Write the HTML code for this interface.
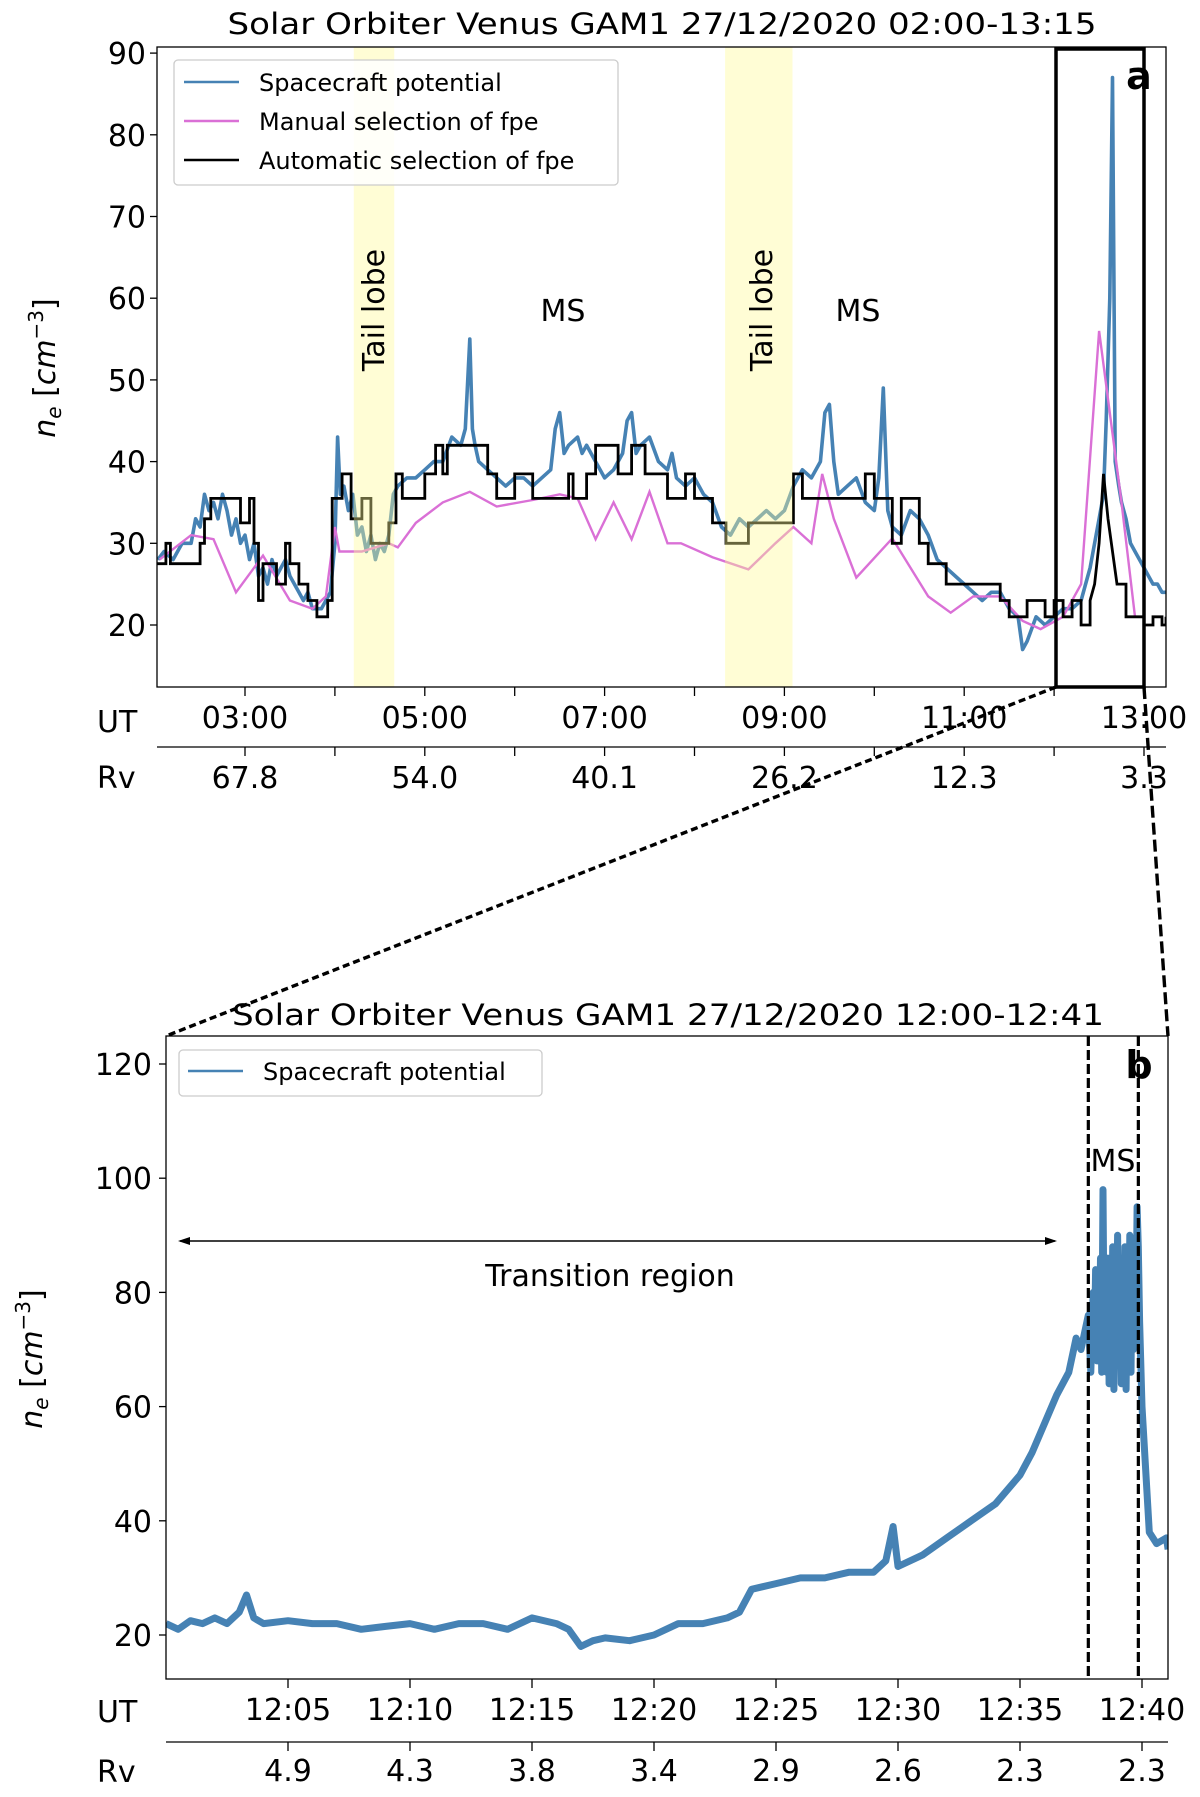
<!DOCTYPE html>
<html><head><meta charset="utf-8">
<style>
html,body{margin:0;padding:0;background:#fff;}
svg{display:block;font-family:"DejaVu Sans","Liberation Sans",sans-serif;}
</style></head>
<body>
<svg id="fig" width="1200" height="1797" viewBox="0 0 1200 1797" xmlns="http://www.w3.org/2000/svg"></svg>
<script>
// ---------- Panel a data ----------
const aBlueT = [2.03,2.1,2.2,2.3,2.4,2.45,2.5,2.55,2.6,2.65,2.7,2.75,2.8,2.85,2.9,2.95,3.0,3.05,3.1,3.15,3.2,3.25,3.3,3.35,3.4,3.45,3.5,3.55,3.6,3.65,3.7,3.75,3.8,3.85,3.9,3.95,4.0,4.03,4.06,4.1,4.15,4.2,4.25,4.3,4.35,4.4,4.45,4.5,4.55,4.6,4.65,4.7,4.8,4.9,5.0,5.1,5.2,5.3,5.4,5.45,5.5,5.53,5.56,5.6,5.7,5.8,5.9,6.0,6.1,6.2,6.3,6.4,6.45,6.5,6.55,6.6,6.7,6.75,6.8,6.9,7.0,7.1,7.2,7.25,7.3,7.35,7.4,7.5,7.6,7.7,7.75,7.8,7.9,8.0,8.1,8.2,8.3,8.4,8.5,8.6,8.7,8.8,8.9,9.0,9.1,9.2,9.3,9.4,9.45,9.5,9.55,9.6,9.7,9.8,9.9,10.0,10.05,10.1,10.15,10.2,10.3,10.4,10.5,10.6,10.7,10.8,10.9,11.0,11.1,11.2,11.3,11.4,11.5,11.6,11.65,11.7,11.8,11.9,12.0,12.1,12.2,12.3,12.35,12.4,12.45,12.5,12.55,12.58,12.62,12.65,12.68,12.72,12.75,12.8,12.85,12.9,12.95,13.0,13.05,13.1,13.15,13.2,13.245];
const aBlueV = [28,29,28,30,30,33,32,36,34,35,33,36,34,31,33,30,31,28,30,26,27,25,28,26,27,28,26,25,24,23,24,22,22,22,23,24,30,43,36,37,34,36,31,32,29,31,28,30,29,31,36,37,38,38,39,40,40,43,42,44,55,44,42,40,39,38,37,38,38,37,38,39,44,46,41,42,43,41,42,40,38,39,41,45,46,41,42,43,40,39,41,38,37,38,36,35,32,31,33,32,33,34,33,34,37,39,38,40,46,47,40,36,37,38,35,34,38,49,34,32,31,34,33,31,28,27,26,25,24,23,24,24,22,21,17,18,21,20,21,22,22,23,25,27,30,33,36,45,60,87,40,37,35,33,30,29,28,27,26,25,25,24,24];

const aManT = [2.05,2.4,2.65,2.9,3.2,3.5,3.75,3.9,4.0,4.05,4.3,4.6,4.7,4.9,5.2,5.5,5.8,6.2,6.5,6.7,6.9,7.1,7.3,7.5,7.7,7.85,8.2,8.6,8.9,9.1,9.3,9.42,9.55,9.8,10.2,10.6,10.85,11.1,11.4,11.65,11.85,12.1,12.3,12.5,12.75,12.9];
const aManV = [28,31,30.5,24,28.5,23,22,23.5,32,29,29,30,29.5,32.5,35,36.3,34.5,35.3,36,35.5,30.5,35,30.5,36.3,30,30,28.3,26.8,30,32,30,38.5,33,25.8,30.6,23.5,21.5,23.5,23.5,20.5,19.5,21,25,56,35,21];

const aAutoT = [2.02,2.12,2.17,2.2,2.5,2.55,2.62,2.7,2.95,3.05,3.1,3.15,3.2,3.35,3.45,3.5,3.6,3.7,3.8,3.92,3.97,4.08,4.18,4.3,4.4,4.6,4.68,4.75,5.0,5.12,5.2,5.25,5.45,5.7,5.8,6.0,6.2,6.6,6.65,6.8,6.9,7.15,7.3,7.45,7.7,7.9,8.0,8.2,8.35,8.6,8.9,9.1,9.2,9.6,9.9,10.0,10.2,10.3,10.5,10.6,10.8,11.0,11.2,11.4,11.5,11.7,11.9,12.0,12.1,12.2,12.3,12.4,12.45,12.5,12.55,12.6,12.7,12.8,13.0,13.1,13.2,13.245];
const aAutoV = [27.5,30,27.5,27.5,30,33,35.5,35.5,32.5,35.5,30,23,27.5,25,30,27.5,25,23,21,23,35.5,38.5,33,35.5,30,32.5,38.5,35.5,38.5,42,38.5,42,42,38.5,35.5,38.5,35.5,38.5,35.5,38.5,42,38.5,42,38.5,35.5,38.5,35.5,32.5,30,32.5,32.5,38.5,35.5,35.5,38.5,35.5,30,35.5,30,27.5,25,25,25,23,21,23,21,23,21,23,20,23,25,30,38.5,33,25,21,20,21,20,21];
const aAutoLinear = [false];

const aYTicks = [20,30,40,50,60,70,80,90];
const aUTTicks = [3,5,7,9,11,13];
const aUTLabels = ["03:00","05:00","07:00","09:00","11:00","13:00"];
const aMinorTicks = [4,6,8,10,12];
const aRvLabels = ["67.8","54.0","40.1","26.2","12.3","3.3"];
const aBands = [[4.21,4.66],[8.34,9.09]];

// ---------- Panel b data ----------
const bT = [0,0.5,1,1.5,2,2.5,3,3.3,3.6,4,5,6,7,8,9,10,11,12,13,14,15,16,16.5,17,17.5,18,19,20,21,22,23,23.5,24,25,26,27,28,29,29.5,29.8,30,31,32,33,34,35,35.5,36,36.5,37,37.3,37.5,37.8,37.9,38,38.05,38.1,38.15,38.2,38.25,38.3,38.35,38.4,38.45,38.5,38.55,38.6,38.65,38.7,38.75,38.8,38.85,38.9,38.95,39,39.05,39.1,39.15,39.2,39.25,39.3,39.35,39.4,39.45,39.5,39.55,39.6,39.65,39.7,39.75,39.8,39.85,39.9,40,40.3,40.6,41,41.07];
const bV = [22,21,22.5,22,23,22,24,27,23,22,22.5,22,22,21,21.5,22,21,22,22,21,23,22,21,18,19,19.5,19,20,22,22,23,24,28,29,30,30,31,31,33,39,32,34,37,40,43,48,52,57,62,66,72,70,76,66,80,70,84,68,82,72,86,66,98,70,84,66,86,64,82,70,88,63,84,72,90,68,85,64,82,70,88,63,84,72,90,66,86,70,88,75,95,88,75,60,38,36,37,35,36];
const bYTicks = [20,40,60,80,100,120];
const bUTTicks = [5,10,15,20,25,30,35,40];
const bUTLabels = ["12:05","12:10","12:15","12:20","12:25","12:30","12:35","12:40"];
const bRvLabels = ["4.9","4.3","3.8","3.4","2.9","2.6","2.3","2.3"];
const bBoundaries = [37.8,39.85];

// ---------- scales ----------
const xa = t => 245 + (t - 3) * 89.9;
const ya = v => 625 - (v - 20) * 8.17;
const xb = m => 288 + (m - 5) * 24.4;
const yb = v => 1635 - (v - 20) * 5.71;
const A = {l:157, r:1166, t:47, b:687};
const B = {l:166, r:1168, t:1036, b:1679};

const svg = document.getElementById('fig');
const NS = 'http://www.w3.org/2000/svg';
function mk(tag, attrs, parent, text) {
  const e = document.createElementNS(NS, tag);
  for (const k in attrs) e.setAttribute(k, attrs[k]);
  if (text !== undefined) e.textContent = text;
  (parent || svg).appendChild(e);
  return e;
}
function linePath(xs, ys, fx, fy) {
  return xs.map((x, i) => (i ? 'L' : 'M') + fx(x).toFixed(1) + ',' + fy(ys[i]).toFixed(1)).join('');
}
function stepPath(xs, ys, fx, fy) {
  let d = 'M' + fx(xs[0]).toFixed(1) + ',' + fy(ys[0]).toFixed(1);
  for (let i = 1; i < xs.length; i++) {
    if (xs[i] > 12.4 && xs[i] <= 12.7) {
      d += 'L' + fx(xs[i]).toFixed(1) + ',' + fy(ys[i]).toFixed(1);
      continue;
    }
    d += 'L' + fx(xs[i]).toFixed(1) + ',' + fy(ys[i - 1]).toFixed(1);
    d += 'L' + fx(xs[i]).toFixed(1) + ',' + fy(ys[i]).toFixed(1);
  }
  return d;
}

// ===== Panel a =====
const ga = mk('g', {});


const clipA = mk('clipPath', {id: 'clipA'}, ga);
mk('rect', {x: A.l, y: A.t, width: A.r - A.l, height: A.b - A.t}, clipA);

const pa = mk('g', {'clip-path': 'url(#clipA)'}, ga);
const blueA = mk('path', {d: linePath(aBlueT, aBlueV, xa, ya), fill: 'none', stroke: '#4682b4', 'stroke-width': 3.6, 'stroke-linejoin': 'round'}, pa);


const manA = mk('path', {d: linePath(aManT, aManV, xa, ya), fill: 'none', stroke: '#da70d6', 'stroke-width': 2.4}, pa);


const autoA = mk('path', {d: stepPath(aAutoT, aAutoV, xa, ya), fill: 'none', stroke: '#000', 'stroke-width': 2.8}, pa);


aBands.forEach(b => {
  const r = mk('rect', {x: xa(b[0]), y: A.t, width: xa(b[1]) - xa(b[0]), height: A.b - A.t, fill: 'rgb(255,250,150)', 'fill-opacity': 0.4}, pa);
  
  
});
mk('rect', {x: A.l, y: A.t, width: A.r - A.l, height: A.b - A.t, fill: 'none', stroke: '#000', 'stroke-width': 1.3}, ga);

aYTicks.forEach(v => {
  mk('line', {x1: A.l - 7, x2: A.l, y1: ya(v), y2: ya(v), stroke: '#000', 'stroke-width': 1.3}, ga);
  const t = mk('text', {x: A.l - 11, y: ya(v) + 11, 'font-size': 30, 'text-anchor': 'end'}, ga, String(v));
  
  
});
aUTTicks.concat(aMinorTicks).forEach(h => {
  mk('line', {x1: xa(h), x2: xa(h), y1: A.b, y2: A.b + 9, stroke: '#000', 'stroke-width': 1.3}, ga);
  mk('line', {x1: xa(h), x2: xa(h), y1: 747, y2: 756, stroke: '#000', 'stroke-width': 1.3}, ga);
});
aUTTicks.forEach((h, i) => {
  const t = mk('text', {x: xa(h), y: 728, 'font-size': 30, 'text-anchor': 'middle'}, ga, aUTLabels[i]);
  
  
  const r = mk('text', {x: xa(h), y: 788, 'font-size': 30, 'text-anchor': 'middle'}, ga, aRvLabels[i]);
  
  
});
mk('line', {x1: A.l, x2: A.r, y1: 747, y2: 747, stroke: '#000', 'stroke-width': 1.3}, ga);
mk('text', {x: 97, y: 732, 'font-size': 30}, ga, 'UT');
mk('text', {x: 97, y: 788, 'font-size': 30}, ga, 'Rv');

const ta = mk('text', {x: 662, y: 34, 'font-size': 29, 'text-anchor': 'middle', textLength: 869, lengthAdjust: 'spacingAndGlyphs'}, ga, 'Solar Orbiter Venus GAM1 27/12/2020 02:00-13:15');



const yla = mk('text', {transform: 'translate(55,368) rotate(-90)', 'font-size': 30, 'text-anchor': 'middle'}, ga);


yla.innerHTML = '<tspan font-style="italic">n</tspan><tspan font-style="italic" font-size="20" dy="6">e</tspan><tspan dy="-6"> [</tspan><tspan font-style="italic">cm</tspan><tspan font-size="20" dy="-12">−3</tspan><tspan dy="12">]</tspan>';

[[373, 'Tail lobe'], [761, 'Tail lobe']].forEach(a => {
  const t = mk('text', {transform: 'translate(' + (a[0] + 11) + ',310) rotate(-90)', 'font-size': 30, 'text-anchor': 'middle'}, ga, a[1]);
  
  
});
[563, 858].forEach(x => {
  const t = mk('text', {x: x, y: 321, 'font-size': 30, 'text-anchor': 'middle'}, ga, 'MS');
  
  
});
const zoomBox = mk('rect', {x: 1056, y: 49, width: 88, height: 638, fill: 'none', stroke: '#000', 'stroke-width': 3.5}, ga);


const la = mk('text', {x: 1139, y: 89, 'font-size': 38, 'font-weight': 'bold', 'text-anchor': 'middle'}, ga, 'a');



const lga = mk('g', {}, ga);


mk('rect', {x: 174, y: 60, width: 444, height: 125, rx: 4, fill: '#fff', 'fill-opacity': 0.85, stroke: '#ccc', 'stroke-width': 1.3}, lga);
[['#4682b4', 'Spacecraft potential', 82], ['#da70d6', 'Manual selection of fpe', 121], ['#000', 'Automatic selection of fpe', 160]].forEach(e => {
  const g = mk('g', {}, lga);
  
  
  mk('line', {x1: 184, x2: 239, y1: e[2], y2: e[2], stroke: e[0], 'stroke-width': 2.4}, g);
  mk('text', {x: 259, y: e[2] + 9, 'font-size': 24}, g, e[1]);
});

const c1 = mk('line', {x1: 1056, y1: 687, x2: 166, y2: 1036, stroke: '#000', 'stroke-width': 3.4, 'stroke-dasharray': '7,4'});


const c2 = mk('line', {x1: 1144, y1: 687, x2: 1168, y2: 1036, stroke: '#000', 'stroke-width': 3.4, 'stroke-dasharray': '12,5'});



// ===== Panel b =====
const gb = mk('g', {});


const clipB = mk('clipPath', {id: 'clipB'}, gb);
mk('rect', {x: B.l, y: B.t, width: B.r - B.l, height: B.b - B.t}, clipB);
const pb = mk('g', {'clip-path': 'url(#clipB)'}, gb);
const blueB = mk('path', {d: linePath(bT, bV, xb, yb), fill: 'none', stroke: '#4682b4', 'stroke-width': 7, 'stroke-linejoin': 'round'}, pb);


mk('rect', {x: B.l, y: B.t, width: B.r - B.l, height: B.b - B.t, fill: 'none', stroke: '#000', 'stroke-width': 1.3}, gb);
bBoundaries.forEach(m => {
  const l = mk('line', {x1: xb(m), x2: xb(m), y1: B.t, y2: B.b, stroke: '#000', 'stroke-width': 3.2, 'stroke-dasharray': '10,4'}, gb);
  
  
});
bYTicks.forEach(v => {
  mk('line', {x1: B.l - 7, x2: B.l, y1: yb(v), y2: yb(v), stroke: '#000', 'stroke-width': 1.3}, gb);
  const t = mk('text', {x: B.l - 14, y: yb(v) + 11, 'font-size': 30, 'text-anchor': 'end'}, gb, String(v));
  
  
});
bUTTicks.forEach((m, i) => {
  mk('line', {x1: xb(m), x2: xb(m), y1: B.b, y2: B.b + 9, stroke: '#000', 'stroke-width': 1.3}, gb);
  mk('line', {x1: xb(m), x2: xb(m), y1: 1742, y2: 1751, stroke: '#000', 'stroke-width': 1.3}, gb);
  const t = mk('text', {x: xb(m), y: 1720, 'font-size': 30, 'text-anchor': 'middle'}, gb, bUTLabels[i]);
  
  
  const r = mk('text', {x: xb(m), y: 1781, 'font-size': 30, 'text-anchor': 'middle'}, gb, bRvLabels[i]);
  
  
});
mk('line', {x1: B.l, x2: B.r, y1: 1742, y2: 1742, stroke: '#000', 'stroke-width': 1.3}, gb);
mk('text', {x: 97, y: 1722, 'font-size': 30}, gb, 'UT');
mk('text', {x: 97, y: 1782, 'font-size': 30}, gb, 'Rv');

const tb = mk('text', {x: 668, y: 1025, 'font-size': 29, 'text-anchor': 'middle', textLength: 872, lengthAdjust: 'spacingAndGlyphs'}, gb, 'Solar Orbiter Venus GAM1 27/12/2020 12:00-12:41');



const ylb = mk('text', {transform: 'translate(42,1359) rotate(-90)', 'font-size': 30, 'text-anchor': 'middle'}, gb);


ylb.innerHTML = '<tspan font-style="italic">n</tspan><tspan font-style="italic" font-size="20" dy="6">e</tspan><tspan dy="-6"> [</tspan><tspan font-style="italic">cm</tspan><tspan font-size="20" dy="-12">−3</tspan><tspan dy="12">]</tspan>';

const arr = mk('g', {}, gb);


mk('line', {x1: 180, x2: 1055, y1: 1241, y2: 1241, stroke: '#000', 'stroke-width': 1.6}, arr);
mk('path', {d: 'M178,1241 L190,1237 L190,1245 Z', fill: '#000'}, arr);
mk('path', {d: 'M1057,1241 L1045,1237 L1045,1245 Z', fill: '#000'}, arr);
const tr = mk('text', {x: 610, y: 1286, 'font-size': 30, 'text-anchor': 'middle'}, gb, 'Transition region');


const msb = mk('text', {x: 1113, y: 1171, 'font-size': 30, 'text-anchor': 'middle'}, gb, 'MS');


const lb = mk('text', {x: 1139, y: 1078, 'font-size': 38, 'font-weight': 'bold', 'text-anchor': 'middle'}, gb, 'b');



const lgb = mk('g', {}, gb);


mk('rect', {x: 179, y: 1050, width: 363, height: 46, rx: 4, fill: '#fff', stroke: '#ccc', 'stroke-width': 1.3}, lgb);
const eb = mk('g', {}, lgb);


mk('line', {x1: 188, x2: 243, y1: 1071, y2: 1071, stroke: '#4682b4', 'stroke-width': 2.4}, eb);
mk('text', {x: 263, y: 1080, 'font-size': 24}, eb, 'Spacecraft potential');
</script>
</body></html>
